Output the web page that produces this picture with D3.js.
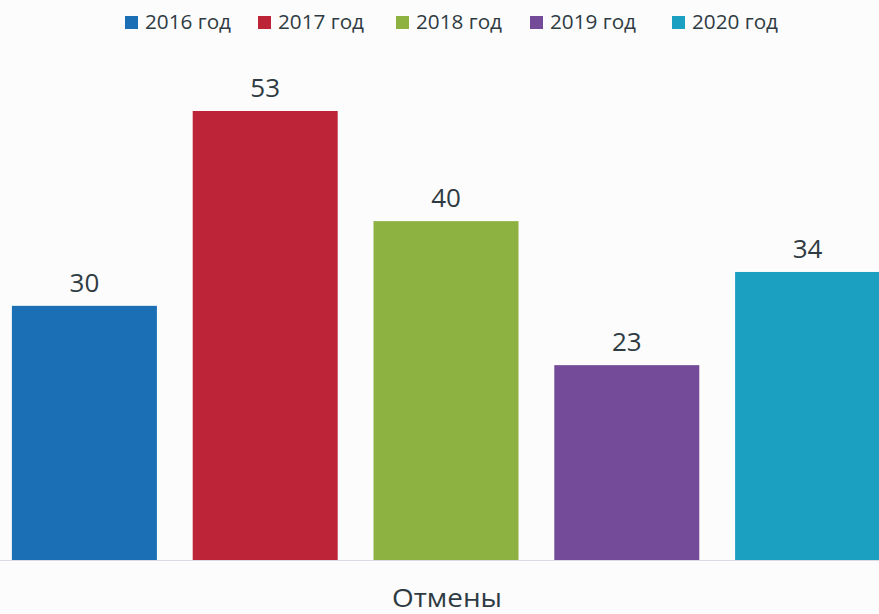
<!DOCTYPE html>
<html>
<head>
<meta charset="utf-8">
<script src="https://d3js.org/d3.v7.min.js"></script>
<style>
  body { margin: 0; background: #fcfcfd; }
  svg { display: block; }
</style>
</head>
<body>
<svg id="chart" width="879" height="614"></svg>
<script>
// Chart data
const years = ["2016 год", "2017 год", "2018 год", "2019 год", "2020 год"];
const values = [30, 53, 40, 23, 34];
const colors = ["#1a6fb5", "#be2437", "#8db241", "#744b98", "#1ca0c1"];
const categoryLabel = "Отмены";

const svg = d3.select("#chart");
const width = +svg.attr("width");
const height = +svg.attr("height");
const font = "'Open Sans', 'DejaVu Sans', sans-serif";
const textColor = "#2f3b42";

const baseY = 560;

// scales
const x = d3.scaleBand()
    .domain(years)
    .range([-6, 898])
    .paddingInner(0.198)
    .paddingOuter(0.099);

const y = d3.scaleLinear()
    .domain([0, 53])
    .range([baseY, 111]);

// baseline
svg.append("line")
    .attr("x1", 0).attr("x2", width)
    .attr("y1", baseY + 0.5).attr("y2", baseY + 0.5)
    .attr("stroke", "#d9dde3")
    .attr("stroke-width", 1);

// bars
svg.append("g")
    .selectAll("rect")
    .data(years)
    .join("rect")
    .attr("x", d => x(d))
    .attr("y", (d, i) => y(values[i]))
    .attr("width", x.bandwidth())
    .attr("height", (d, i) => y(0) - y(values[i]))
    .attr("fill", (d, i) => colors[i]);

// value labels
svg.append("g")
    .selectAll("text")
    .data(years)
    .join("text")
    .attr("x", d => x(d) + x.bandwidth() / 2)
    .attr("y", (d, i) => y(values[i]) - 14)
    .attr("text-anchor", "middle")
    .attr("font-family", font)
    .attr("font-size", 26)
    .attr("fill", textColor)
    .text((d, i) => values[i]);

// category label
svg.append("text")
    .attr("x", 447)
    .attr("y", 607)
    .attr("text-anchor", "middle")
    .attr("font-family", font)
    .attr("font-size", 26)
    .attr("textLength", 110)
    .attr("lengthAdjust", "spacingAndGlyphs")
    .attr("fill", textColor)
    .text(categoryLabel);

// legend
const legend = svg.append("g");
const legendStarts = [125, 258, 396, 530, 672];
const items = legend.selectAll("g")
    .data(years)
    .join("g")
    .attr("transform", (d, i) => `translate(${legendStarts[i]},0)`);

items.append("rect")
    .attr("x", 0)
    .attr("y", 16)
    .attr("width", 13)
    .attr("height", 13)
    .attr("fill", (d, i) => colors[i]);

items.append("text")
    .attr("x", 20)
    .attr("y", 29)
    .attr("font-family", font)
    .attr("font-size", 20)
    .attr("textLength", 86)
    .attr("lengthAdjust", "spacingAndGlyphs")
    .attr("fill", textColor)
    .text(d => d);
</script>
</body>
</html>
